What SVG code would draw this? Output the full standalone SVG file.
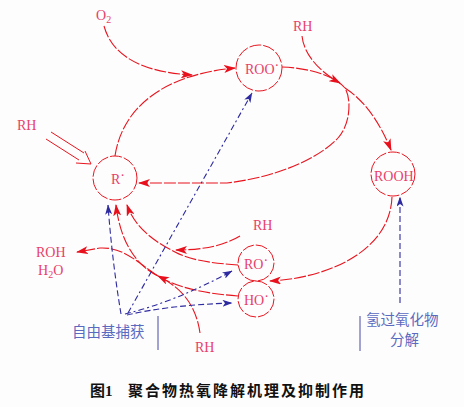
<svg xmlns="http://www.w3.org/2000/svg" width="464" height="407" viewBox="0 0 464 407">
<defs>
<style>
.bg{fill:#fdfdfd}
.nd{fill:none;stroke:#e8141e;stroke-width:1;stroke-dasharray:12 2}
.lb{font-family:"Liberation Serif",serif;font-size:14px;fill:#e8406a}
.cn{font-family:"Noto Sans CJK SC",sans-serif;font-size:14.5px;fill:#5a6ac0}
.cap{font-family:"Noto Sans CJK SC",sans-serif;font-size:15px;font-weight:bold;fill:#111}
.r{fill:none;stroke:#e8141e;stroke-width:1.1;stroke-dasharray:12 2}
.b{fill:none;stroke:#2e2aa0;stroke-width:1.1;stroke-dasharray:6 3 2 3}
.bv{fill:none;stroke:#2e2aa0;stroke-width:1.1;stroke-dasharray:6 3}
.tk{stroke:#4848a8;stroke-width:1}
</style>
<marker id="ar" viewBox="0 0 12 8" refX="11" refY="4" markerWidth="12" markerHeight="8" orient="auto" markerUnits="userSpaceOnUse"><path d="M0,0 L12,4 L0,8 L3,4 z" fill="#e8101c"/></marker>
<marker id="ab" viewBox="0 0 10 7" refX="9.5" refY="3.5" markerWidth="10" markerHeight="7" orient="auto" markerUnits="userSpaceOnUse"><path d="M0,0 L10,3.5 L0,7 L2.5,3.5 z" fill="#2e2aa0"/></marker>
</defs>
<rect class="bg" x="0" y="0" width="464" height="407"/>

<g id="connectors">
<path class="r" d="M104,26 C112,55 140,72 192,75" marker-end="url(#ar)"/>
<path class="r" d="M115,156 C122,110 160,75 235,68" marker-end="url(#ar)"/>
<path class="r" d="M282,67 C310,68 335,76 345,88 C352,100 350,125 338,138 C315,162 270,178 227,183 L139,183" marker-end="url(#ar)"/>
<path class="r" d="M345,88 Q373,106 391,150" marker-end="url(#ar)"/>
<path class="r" d="M302,36 C304,55 320,72 340,83" marker-end="url(#ar)"/>
<path class="r" d="M392,197 C390,250 330,278 270,281" marker-end="url(#ar)"/>
<path class="r" d="M238,265 C210,263 190,260 175,252 C155,242 135,228 127,205" marker-end="url(#ar)"/>
<path class="r" d="M240,236 C225,245 205,250 176,250" marker-end="url(#ar)"/>
<path class="r" d="M238,296 C200,293 175,287 155,274 C135,260 122,247 100,248 L77,252" marker-end="url(#ar)"/>
<path class="r" d="M200,333 C196,305 182,288 158,276" marker-end="url(#ar)"/>
<path class="r" d="M158,276 C135,265 120,240 116,205" marker-end="url(#ar)"/>
<g stroke="#e8141e" stroke-width="1" fill="none">
<path d="M46,139 L79,160"/>
<path d="M51,132 L84,153"/>
<path d="M85,151 L91,164 L76,163"/>
</g>
<path class="bv" d="M121,314 Q112,260 108,205" marker-end="url(#ab)"/>
<path class="b" d="M128,313 L252,93" marker-end="url(#ab)"/>
<path class="b" d="M125,314 Q175,302 232,271" marker-end="url(#ab)"/>
<path class="bv" d="M127,315 Q170,305 232,303" marker-end="url(#ab)"/>
<path class="bv" d="M400,303 L400,197" marker-end="url(#ab)"/>
<line class="tk" x1="158" y1="316" x2="158" y2="350"/>
<line class="tk" x1="360" y1="316" x2="360" y2="351"/>
</g>

<g id="node-R">
<circle class="nd" cx="115" cy="178" r="22"/>
<text class="lb" x="111" y="184">R<tspan dy="-4">·</tspan></text>
</g>
<g id="node-ROO">
<circle class="nd" cx="259" cy="68" r="23"/>
<text class="lb" x="245" y="74" fill="#ee6a5a">ROO<tspan dy="-4">·</tspan></text>
</g>
<g id="node-ROOH">
<circle class="nd" cx="393" cy="174" r="22"/>
<text class="lb" x="374" y="181">ROOH</text>
</g>
<g id="node-RO">
<circle class="nd" cx="256" cy="263" r="18"/>
<text class="lb" x="244" y="269">RO<tspan dy="-4">·</tspan></text>
</g>
<g id="node-HO">
<circle class="nd" cx="256" cy="299" r="18"/>
<text class="lb" x="244" y="305">HO<tspan dy="-4">·</tspan></text>
</g>

<g id="labels">
<text class="lb" x="96" y="20">O<tspan font-size="10" dy="3">2</tspan></text>
<text class="lb" x="17" y="130">RH</text>
<text class="lb" x="293" y="31">RH</text>
<text class="lb" x="253" y="230">RH</text>
<text class="lb" x="195" y="352">RH</text>
<text class="lb" x="36" y="257">ROH</text>
<text class="lb" x="38" y="275">H<tspan font-size="10" dy="3">2</tspan><tspan dy="-3">O</tspan></text>
<text class="cn" x="72" y="337">自由基捕获</text>
<text class="cn" x="366" y="325">氢过氧化物</text>
<text class="cn" x="404.5" y="345" text-anchor="middle">分解</text>
<text class="cap" x="90" y="396">图<tspan font-family="Liberation Serif,serif">1</tspan></text>
<text class="cap" x="128" y="396" letter-spacing="2">聚合物热氧降解机理及抑制作用</text>
</g>
</svg>
